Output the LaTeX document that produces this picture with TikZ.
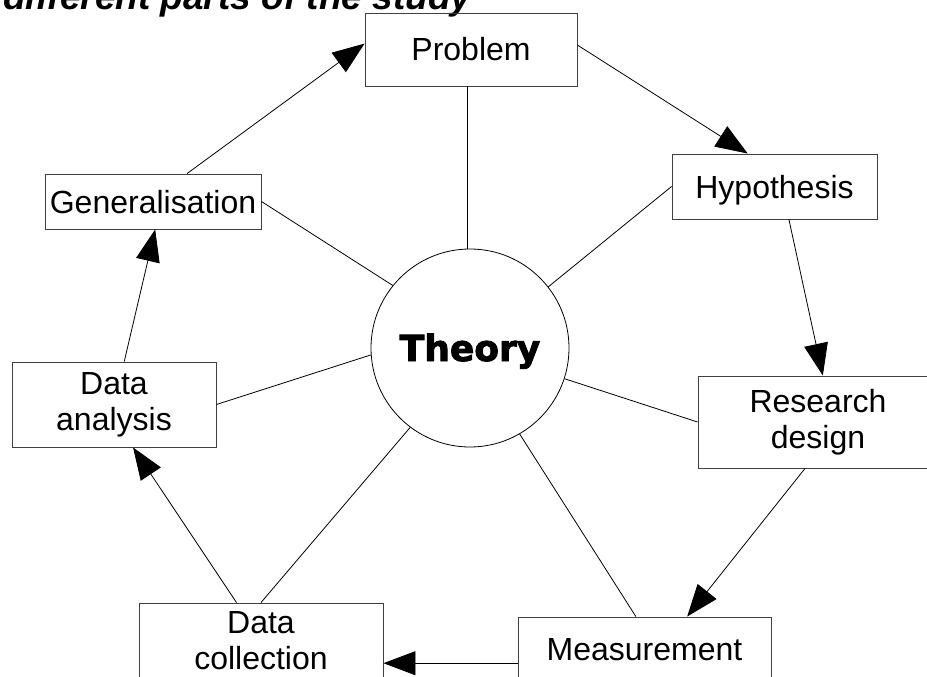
\documentclass[tikz,border=0pt]{standalone}
\usepackage{fontspec}
\setmainfont{Liberation Sans}
\newfontfamily\theoryfont{DejaVu Sans}[BoldFeatures={FakeBold=2.5}]
\usetikzlibrary{arrows.meta,calc}
\begin{document}
\begin{tikzpicture}[x=1pt,y=-1pt,
  box/.style={draw=black!75, line width=0.9pt, rectangle, inner sep=0pt,
    font=\fontsize{32}{36}\selectfont, align=center},
  one/.style={text height=23pt, text depth=0pt},
  link/.style={draw=black, line width=0.8pt},
  arr/.style={link, -{Triangle[length=32pt,width=24pt]}}]
\useasboundingbox (0,0) rectangle (927,677);

\node[anchor=base west, inner sep=0pt, font=\fontsize{37}{40}\selectfont\bfseries\itshape] (title) at (3,10) {different parts of the study};

\node[box, one, minimum width=212pt, minimum height=73pt] (prob) at (471,49.5) {Problem};
\node[box, one, minimum width=205pt, minimum height=65pt] (hyp) at (774.5,186.5) {Hypothesis};
\node[box, one, minimum width=216pt, minimum height=55pt] (gen) at (153,201.5) {Generalisation};
\node[box, minimum width=204pt, minimum height=85pt] (da) at (114,404.5) {Data\\analysis};
\node[box, minimum width=240pt, minimum height=92pt] (rd) at (818,422) {Research\\design};
\node[box, one, minimum width=253pt, minimum height=63pt] (meas) at (644.5,648.5) {Measurement};
\node[box, minimum width=244pt, minimum height=75pt] (dc) at (261,640.5) {Data\\collection};

\node[draw, circle, minimum size=198pt, inner sep=0pt, line width=0.8pt,
  font=\theoryfont\bfseries\fontsize{36}{40}\selectfont, text height=26pt, text depth=0pt] (th) at (470,348) {Theory};

\coordinate (g1) at ($(gen.north west)!0.657!(gen.north east)$);
\coordinate (p1) at ($(prob.north west)!0.42!(prob.south west)$);
\coordinate (p2) at ($(prob.north east)!0.44!(prob.south east)$);
\coordinate (p3) at ($(prob.south west)!0.481!(prob.south east)$);
\coordinate (h1) at ($(hyp.north west)!0.37!(hyp.north east)$);
\coordinate (h2) at ($(hyp.south west)!0.57!(hyp.south east)$);
\coordinate (r1) at ($(rd.north west)!0.52!(rd.north east)$);
\coordinate (r2) at ($(rd.south west)!0.446!(rd.south east)$);
\coordinate (m1) at ($(meas.north west)!0.668!(meas.north east)$);
\coordinate (m2) at ($(meas.north west)!0.466!(meas.north east)$);
\coordinate (m3) at ($(meas.north west)!0.73!(meas.south west)$);
\coordinate (d1) at ($(dc.north west)!0.40!(dc.north east)$);
\coordinate (a1) at ($(da.south west)!0.593!(da.south east)$);
\coordinate (a2) at ($(da.north west)!0.55!(da.north east)$);
\coordinate (g2) at ($(gen.south west)!0.51!(gen.south east)$);

\draw[arr] (g1) -- (p1);
\draw[arr] (p2) -- (h1);
\draw[arr] (h2) -- (r1);
\draw[arr] (r2) -- (m1);
\draw[arr] (m3) -- (m3 -| dc.east);
\draw[arr] (d1) -- (a1);
\draw[arr] (a2) -- (g2);

\draw[link] (p3) -- (p3 |- th.north);
\draw[link] (gen.east) -- (th.141);
\draw[link] (hyp.west) -- (th.38);
\draw[link] (da.east) -- (th.184);
\draw[link] (rd.west) -- (th.342);
\draw[link] (m2) -- (th.300);
\draw[link] (dc.north) -- (th.233);
\end{tikzpicture}
\end{document}
